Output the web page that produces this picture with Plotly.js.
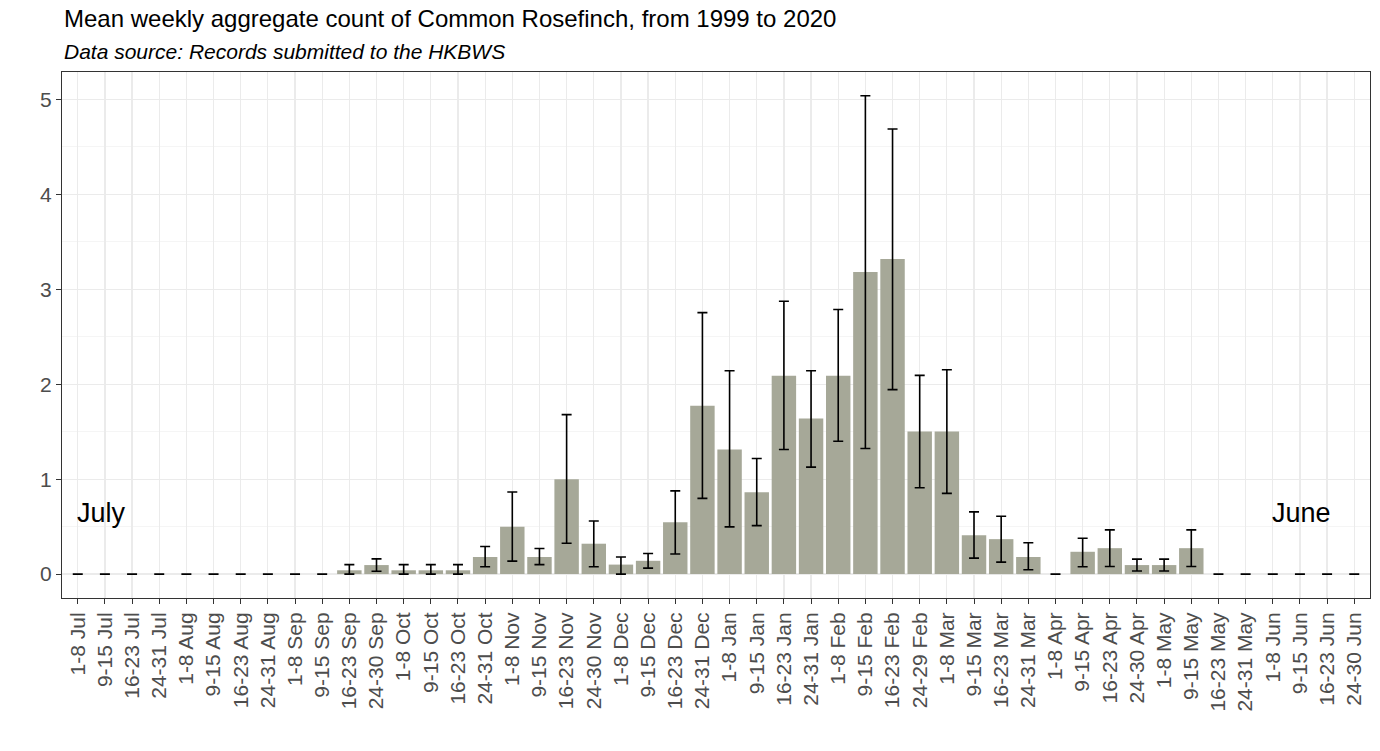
<!DOCTYPE html>
<html>
<head>
<meta charset="utf-8">
<script src="https://cdn.plot.ly/plotly-3.0.1.min.js"></script>
<style>html,body{margin:0;padding:0;background:#fff;}#chart{width:1380px;height:751px;}</style>
</head>
<body>
<div id="chart"></div>
<script>
var weeks = ["1-8 Jul","9-15 Jul","16-23 Jul","24-31 Jul","1-8 Aug","9-15 Aug","16-23 Aug","24-31 Aug",
  "1-8 Sep","9-15 Sep","16-23 Sep","24-30 Sep","1-8 Oct","9-15 Oct","16-23 Oct","24-31 Oct",
  "1-8 Nov","9-15 Nov","16-23 Nov","24-30 Nov","1-8 Dec","9-15 Dec","16-23 Dec","24-31 Dec",
  "1-8 Jan","9-15 Jan","16-23 Jan","24-31 Jan","1-8 Feb","9-15 Feb","16-23 Feb","24-29 Feb",
  "1-8 Mar","9-15 Mar","16-23 Mar","24-31 Mar","1-8 Apr","9-15 Apr","16-23 Apr","24-30 Apr",
  "1-8 May","9-15 May","16-23 May","24-31 May","1-8 Jun","9-15 Jun","16-23 Jun","24-30 Jun"];

var meanCount = [0,0,0,0,0,0,0,0,
  0,0,0.04,0.095,0.04,0.04,0.04,0.18,
  0.50,0.18,1.00,0.32,0.10,0.14,0.545,1.773,
  1.313,0.861,2.09,1.639,2.09,3.183,3.319,1.502,
  1.502,0.41,0.368,0.18,0,0.235,0.273,0.095,
  0.095,0.273,0,0,0,0,0,0];

var upperBound = [0,0,0,0,0,0,0,0,
  0,0,0.10,0.16,0.10,0.10,0.10,0.29,
  0.865,0.27,1.68,0.56,0.18,0.217,0.877,2.755,
  2.143,1.218,2.875,2.143,2.787,5.04,4.69,2.094,
  2.153,0.655,0.609,0.33,0,0.378,0.466,0.158,
  0.158,0.466,0,0,0,0,0,0];

var lowerBound = [0,0,0,0,0,0,0,0,
  0,0,0,0.03,0,0,0,0.077,
  0.137,0.10,0.325,0.077,0,0.063,0.212,0.798,
  0.497,0.511,1.313,1.127,1.40,1.323,1.943,0.91,
  0.85,0.168,0.126,0.046,0,0.077,0.08,0.032,
  0.032,0.08,0,0,0,0,0,0];

var titleText = "Mean weekly aggregate count of Common Rosefinch, from 1999 to 2020";
var subtitleText = "Data source: Records submitted to the HKBWS";
var yTicks = [0,1,2,3,4,5];

var errPlus = meanCount.map(function(m,i){return Math.max(0, upperBound[i]-m);});
var errMinus = meanCount.map(function(m,i){return Math.max(0, m-lowerBound[i]);});

var FONT = "Liberation Sans, Arial, sans-serif";

var trace = {
  type: "bar",
  x: weeks,
  y: meanCount,
  marker: {color: "#a6a898", line: {width: 0}},
  width: 0.9,
  error_y: {type: "data", symmetric: false, array: errPlus, arrayminus: errMinus,
            color: "#000000", thickness: 1.6, width: 5, visible: true},
  hoverinfo: "x+y"
};

var layout = {
  width: 1380, height: 751,
  margin: {l: 62, r: 10, t: 72, b: 153},
  paper_bgcolor: "#ffffff", plot_bgcolor: "#ffffff",
  font: {family: FONT, color: "#4d4d4d"},
  showlegend: false,
  bargap: 0.1,
  xaxis: {
    type: "category",
    range: [-0.58, 47.58],
    tickangle: -90,
    tickfont: {size: 21, color: "#4d4d4d", family: FONT},
    ticks: "outside", ticklen: 5, tickcolor: "#333333", tickwidth: 1,
    showgrid: true, gridcolor: "#ebebeb", gridwidth: 1.2,
    showline: true, linecolor: "#333333", linewidth: 1, mirror: true,
    zeroline: false, fixedrange: true
  },
  yaxis: {
    range: [-0.252, 5.29],
    tickvals: yTicks,
    ticktext: yTicks.map(String),
    tickfont: {size: 21, color: "#4d4d4d", family: FONT},
    ticks: "outside", ticklen: 5, tickcolor: "#333333", tickwidth: 1,
    showgrid: true, gridcolor: "#ebebeb", gridwidth: 1.2,
    minor: {dtick: 0.5, tick0: 0, showgrid: true, gridcolor: "#f3f3f3", gridwidth: 0.8, ticks: ""},
    showline: true, linecolor: "#333333", linewidth: 1, mirror: true,
    zeroline: false, fixedrange: true
  },
  annotations: [
    {xref: "paper", yref: "paper", x: 0, y: 1, xanchor: "left", yanchor: "bottom",
     yshift: 38, showarrow: false, text: titleText,
     font: {family: FONT, size: 24, color: "#000000"}},
    {xref: "paper", yref: "paper", x: 0, y: 1, xanchor: "left", yanchor: "bottom",
     yshift: 7, showarrow: false, text: "<i>" + subtitleText + "</i>",
     font: {family: FONT, size: 21, color: "#000000"}},
    {xref: "x", yref: "y", x: 0.87, y: 0.64, xanchor: "center", yanchor: "middle",
     showarrow: false, text: "July", font: {family: FONT, size: 27, color: "#000000"}},
    {xref: "x", yref: "y", x: 45.05, y: 0.64, xanchor: "center", yanchor: "middle",
     showarrow: false, text: "June", font: {family: FONT, size: 27, color: "#000000"}}
  ]
};

Plotly.newPlot("chart", [trace], layout, {displayModeBar: false, staticPlot: true});
</script>
</body>
</html>
